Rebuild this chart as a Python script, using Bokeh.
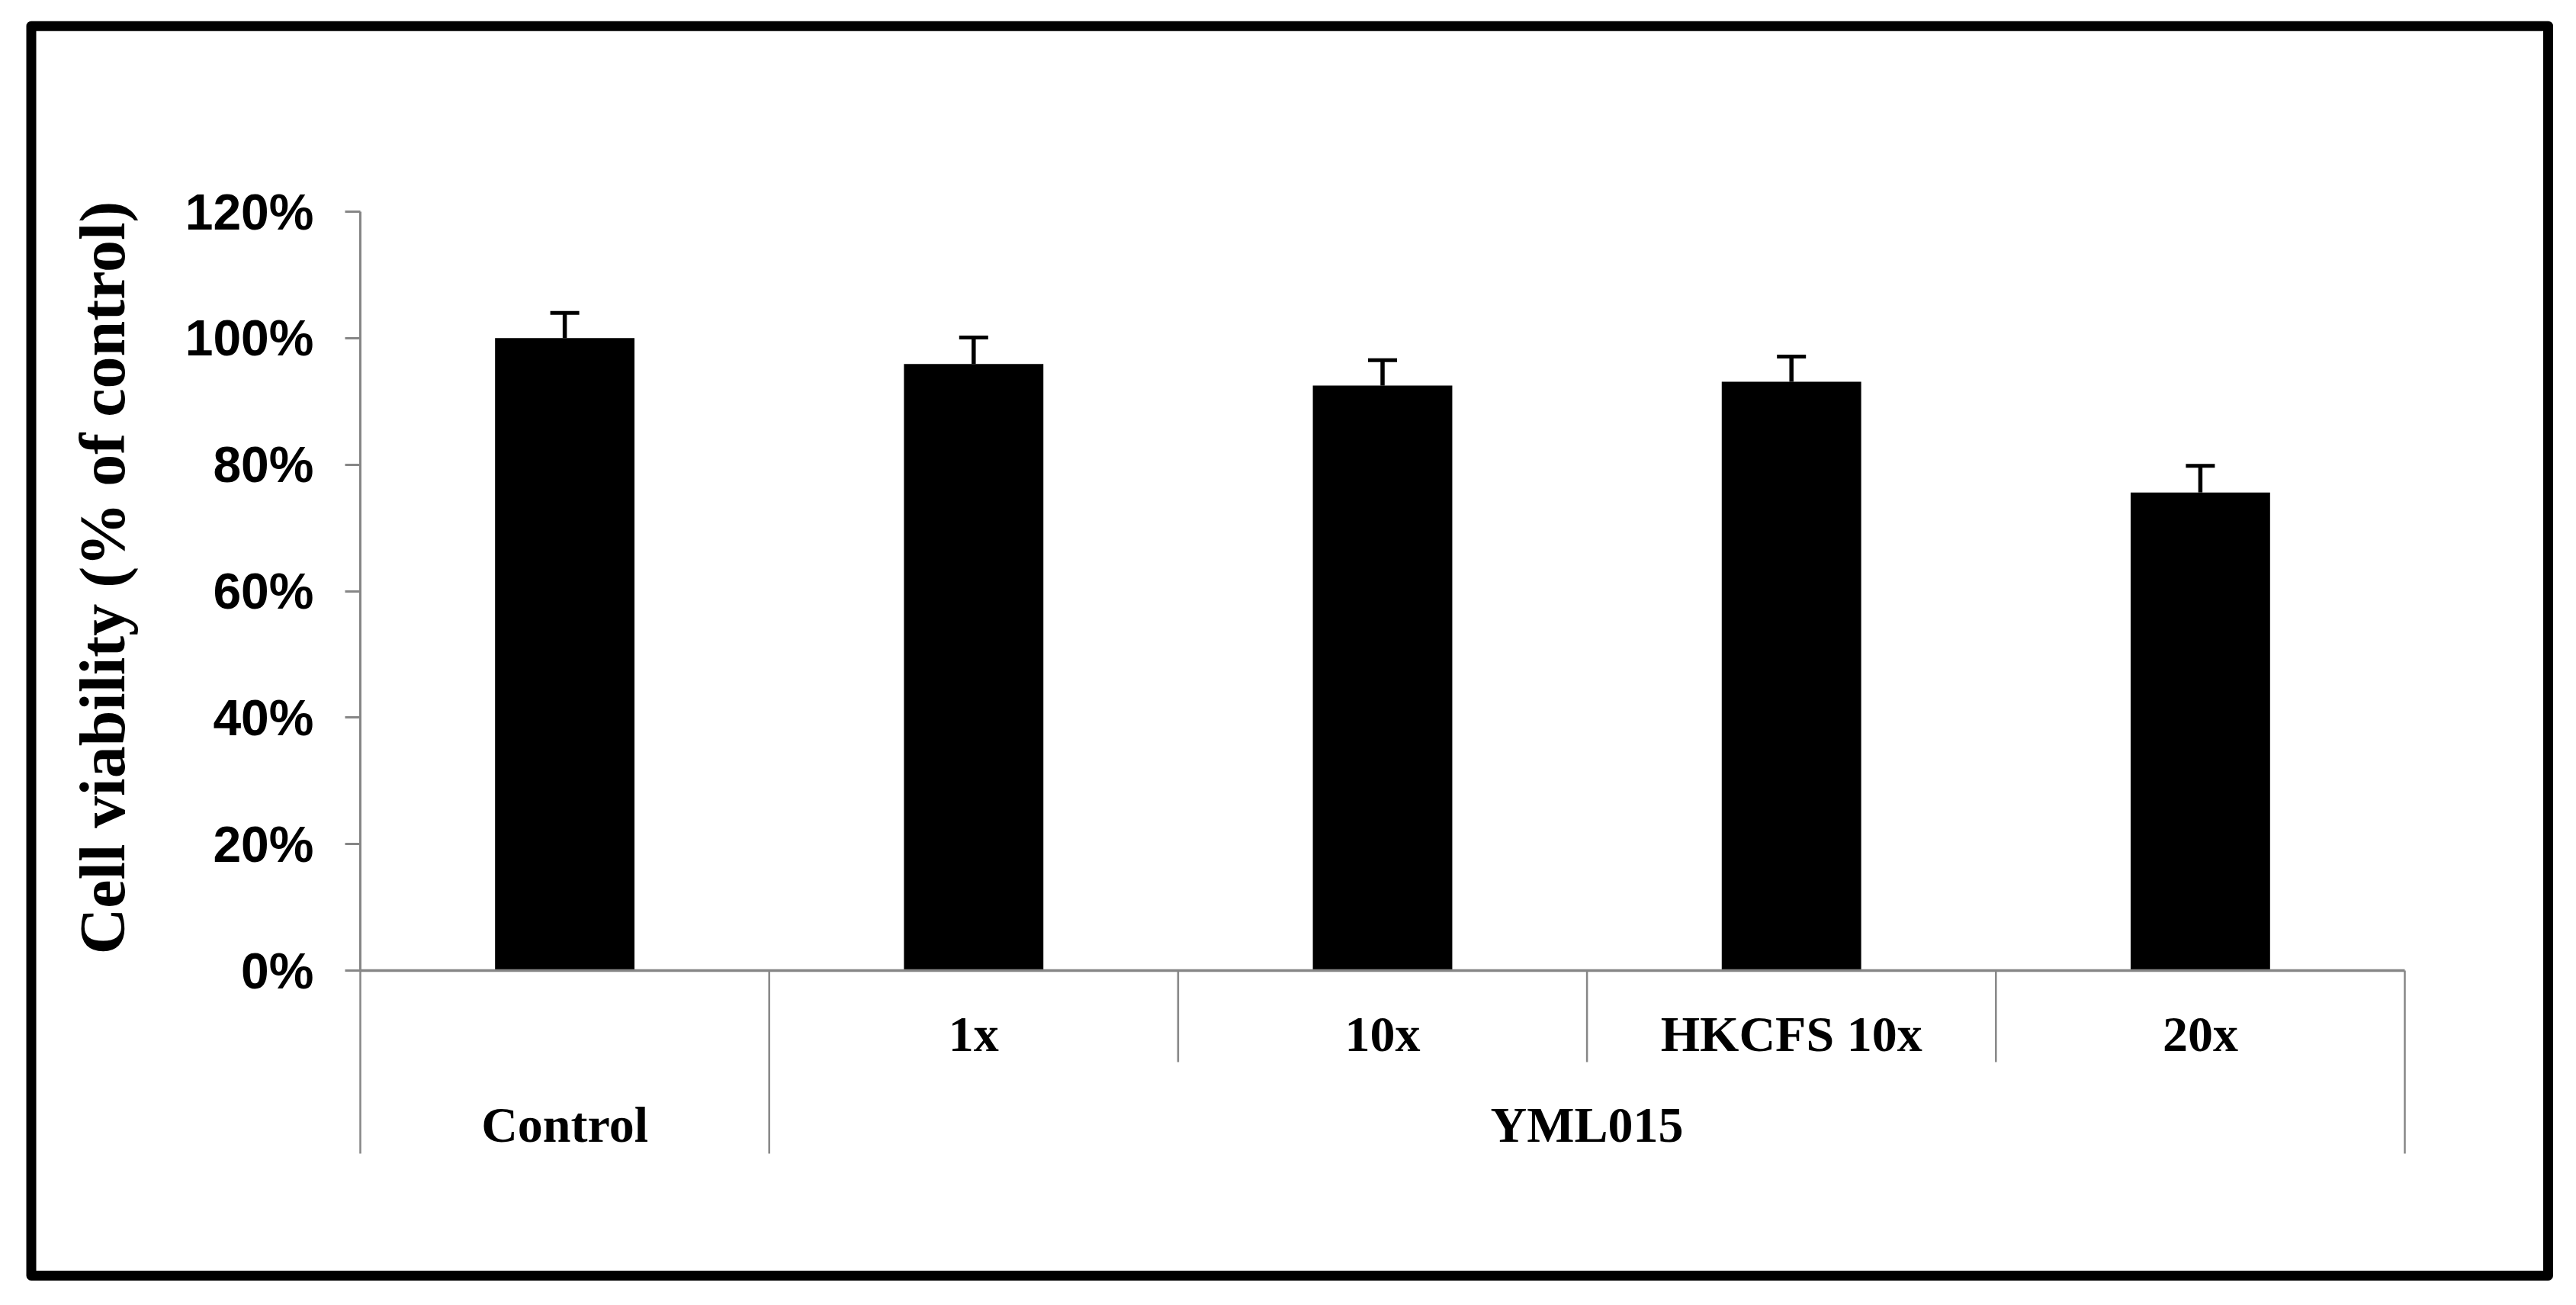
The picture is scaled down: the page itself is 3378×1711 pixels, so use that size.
import math
from bokeh.plotting import figure
from bokeh.models import (Range1d, FixedTicker, NumeralTickFormatter, ColumnDataSource,
                          Whisker, TeeHead, Label, BoxAnnotation)
from bokeh.core.properties import value
from bokeh.embed import file_html
from bokeh.resources import INLINE

# ---------------- data ----------------
groups = ["Control", "YML015", "YML015", "YML015", "YML015"]
subs = ["", "1x", "10x", "HKCFS 10x", "20x"]
viability = [1.000, 0.959, 0.925, 0.931, 0.756]
errors = [0.040, 0.042, 0.040, 0.040, 0.042]
y_ticks = [0.0, 0.2, 0.4, 0.6, 0.8, 1.0, 1.2]
y_title = "Cell viability (% of control)"

# ---------------- layout constants (pixels on the canvas) ----------------
W, H = 3362, 1695
N = len(subs)
X0_PX, X1_PX = 472, 3153        # canvas x of category axis start / end
Y0_PX, Y1_PX = 1272, 277        # canvas y of 0 % and 120 %
GRAY = "#868686"
px_x = (X1_PX - X0_PX) / N
px_y = (Y0_PX - Y1_PX) / 1.2


def xd(px):          # canvas x pixel -> data x
    return (px - X0_PX) / px_x


def yd(px):          # canvas y pixel -> data y
    return (Y0_PX - px) / px_y


p = figure(width=W, height=H, output_backend="svg", toolbar_location=None,
           x_range=Range1d(xd(0), xd(W)), y_range=Range1d(yd(H), yd(0)),
           x_axis_location=None, min_border=0, title=None)
p.outline_line_color = None
p.xgrid.visible = False
p.ygrid.visible = False
p.background_fill_color = "white"
p.border_fill_color = "white"

# y axis (drawn at the start of the category axis)
ax = p.yaxis[0]
ax.fixed_location = 0
ax.bounds = (0, 1.2)
ax.ticker = FixedTicker(ticks=y_ticks)
ax.formatter = NumeralTickFormatter(format="0%")
ax.major_label_text_font = "Liberation Sans"
ax.major_label_text_font_style = "bold"
ax.major_label_text_font_size = "66px"
ax.major_label_text_color = "black"
ax.major_label_standoff = 41
ax.axis_line_color = GRAY
ax.axis_line_width = 3
ax.major_tick_line_color = GRAY
ax.major_tick_line_width = 3
ax.major_tick_out = 20
ax.major_tick_in = 0
ax.minor_tick_line_color = None

# bars
centers = [i + 0.5 for i in range(N)]
src = ColumnDataSource(dict(x=centers, top=viability,
                            upper=[v + e for v, e in zip(viability, errors)]))
p.vbar(x="x", top="top", bottom=0, width=0.341, source=src,
       fill_color="black", line_color=None)

# error bars (plus only)
wh = Whisker(base="x", lower="top", upper="upper", source=src,
             line_color="black", line_width=5.5,
             upper_head=TeeHead(size=38, line_color="black", line_width=5),
             lower_head=None)
p.add_layout(wh)

# category axis table: separators
short_y = yd(Y0_PX + 120)
long_y = yd(Y0_PX + 240)
sep_x, sep_y1 = [], []
for b in range(N + 1):
    sep_x.append(b)
    if b == 0 or b == N or groups[b] != groups[b - 1]:
        sep_y1.append(long_y)
    else:
        sep_y1.append(short_y)
p.segment(x0=sep_x, y0=[0] * len(sep_x), x1=sep_x, y1=sep_y1,
          line_color=GRAY, line_width=2.5)
p.segment(x0=[0], y0=[0], x1=[N], y1=[0], line_color=GRAY, line_width=3.5)

# sub-level labels
sub_x = [c for c, s in zip(centers, subs) if s]
sub_t = [s for s in subs if s]
p.text(x=sub_x, y=[yd(Y0_PX + 83)] * len(sub_x), text=sub_t,
       text_font=value("Liberation Serif"), text_font_style="bold",
       text_font_size="66px", text_align="center", text_baseline="alphabetic",
       text_color="black")

# group labels
g_names, g_x = [], []
start = 0
for i in range(1, N + 1):
    if i == N or groups[i] != groups[start]:
        g_names.append(groups[start])
        g_x.append((start + i) / 2)
        start = i
p.text(x=g_x, y=[yd(Y0_PX + 202)] * len(g_x), text=g_names,
       text_font=value("Liberation Serif"), text_font_style="bold",
       text_font_size="66px", text_align="center", text_baseline="alphabetic",
       text_color="black")

# y axis title
p.add_layout(Label(x=xd(134), y=yd(757), text=y_title, angle=math.pi / 2,
                   text_font="Liberation Serif", text_font_style="bold",
                   text_font_size="84px", text_align="center",
                   text_baseline="alphabetic", text_color="black"))

# outer frame
p.add_layout(BoxAnnotation(left=xd(40.5), right=xd(3341),
                           top=yd(33.7), bottom=yd(1672),
                           fill_color=None, fill_alpha=0, line_color="black",
                           line_alpha=1.0, line_width=13, line_join="round"))

open("out.html", "w").write(file_html(p, INLINE))
